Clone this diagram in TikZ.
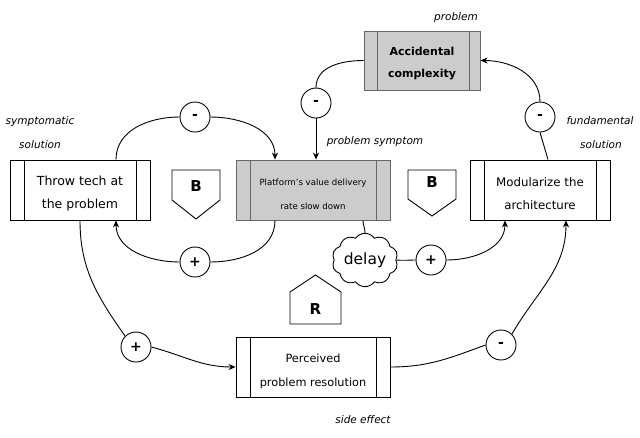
\documentclass[tikz,border=0pt]{standalone}
\usepackage{fontspec}
\setmainfont{DejaVu Sans}
\usetikzlibrary{shapes.symbols,arrows.meta}
\definecolor{boxgray}{HTML}{CCCCCC}
\definecolor{edgegray}{HTML}{666666}
\tikzset{
  proc/.style={draw, rectangle, line width=0.9pt, minimum width=140pt, minimum height=60pt,
    inner sep=0pt,
    path picture={
      \draw[line width=0.9pt] ([xshift=14pt]path picture bounding box.north west) -- ([xshift=14pt]path picture bounding box.south west);
      \draw[line width=0.9pt] ([xshift=-14pt]path picture bounding box.north east) -- ([xshift=-14pt]path picture bounding box.south east);
    }},
  grayproc/.style={proc, fill=boxgray, draw=edgegray},
  boxtext/.style={align=center, inner sep=0pt},
  sign/.style={draw, circle, line width=0.9pt, minimum size=30pt, inner sep=0pt, font=\bfseries\fontsize{14}{14}\selectfont},
  note/.style={font=\itshape\fontsize{10.5}{12}\selectfont},
  link/.style={line width=0.9pt},
  arr/.style={link, -{Stealth[length=7pt,width=6pt]}},
  marker/.style={line width=0.9pt},
  mark letter/.style={font=\bfseries\fontsize{15}{15}\selectfont},
}
\begin{document}
\begin{tikzpicture}[x=1pt,y=-1pt]
\useasboundingbox (0,0) rectangle (640,437);
% boxes
\node[proc] (tt) at (80,190) {};
\node[boxtext, font=\fontsize{12.5}{23}\selectfont] (ttt) at ([yshift=-4pt]tt.center) {Throw tech at\\the problem};
\node[grayproc, minimum width=154pt] (pf) at (313,190) {};
\node[boxtext, font=\fontsize{8.6}{24}\selectfont] (pft) at ([yshift=-4pt]pf.center) {Platform's value delivery\\rate slow down};
\node[grayproc, minimum width=116pt, minimum height=59pt,
  path picture={
      \draw[line width=0.9pt,edgegray] ([xshift=13pt]path picture bounding box.north west) -- ([xshift=13pt]path picture bounding box.south west);
      \draw[line width=0.9pt,edgegray] ([xshift=-11pt]path picture bounding box.north east) -- ([xshift=-11pt]path picture bounding box.south east);
    }] (ac) at (422,60.5) {};
\node[boxtext, font=\bfseries\fontsize{11}{22}\selectfont] (act) at ([yshift=-3pt]ac.center) {Accidental\\complexity};
\node[proc] (mo) at (540,190) {};
\node[boxtext, font=\fontsize{11.8}{23}\selectfont] (mot) at ([yshift=-4pt]mo.center) {Modularize the\\architecture};
\node[proc, minimum width=154pt] (pr) at (313,367) {};
\node[boxtext, font=\fontsize{11.3}{24}\selectfont] (prt) at ([yshift=-4pt]pr.center) {Perceived\\problem resolution};
% signs
\node[sign] (m1) at (195,117) {-};
\node[sign] (m2) at (316,103) {-};
\node[sign] (m3) at (540,117) {-};
\node[sign] (p1) at (195,262) {+};
\node[sign] (p2) at (431,260) {+};
\node[sign] (p3) at (136,347) {+};
\node[sign] (m4) at (501,345) {-};
\node[draw, cloud, cloud puffs=10, cloud puff arc=110, aspect=1.3, line width=0.9pt,
  minimum width=66pt, minimum height=52pt, inner sep=0pt, font=\fontsize{15.5}{15.5}\selectfont] (dl) at (365,260) {delay};
% markers
\draw[marker] (172,170) -- (220,170) -- (220,200) -- (196,219) -- (172,200) -- cycle;
\node[mark letter] (b1) at (196,186) {B};
\draw[marker] (408,170) -- (456,170) -- (456,199) -- (432,216) -- (408,199) -- cycle;
\node[mark letter] (b2) at (432,182) {B};
\draw[marker] (290,324) -- (341,324) -- (341,292) -- (315.5,275) -- (290,292) -- cycle;
\node[mark letter] (r1) at (315.5,309) {R};
% notes
\node[note] (n1) at (456,18) {problem};
\node[note] (n2) at (40,122) {symptomatic};
\node[note] (n3) at (40,145) {solution};
\node[note] (n4) at (375,142) {problem symptom};
\node[note] (n5) at (600,121) {fundamental};
\node[note] (n6) at (601,145) {solution};
\node[note] (n7) at (363,420) {side effect};
% connectors
\draw[link] ([xshift=36pt]tt.north) to[out=90,in=180] (m1.west);
\draw[arr] (m1.east) to[out=0,in=90] ([xshift=-38pt]pf.north);
\draw[link] ([xshift=-38pt]pf.south) to[out=-90,in=0] (p1.east);
\draw[arr] (p1.west) to[out=180,in=-90] ([xshift=36pt]tt.south);
\draw[link] (ac.west) to[out=180,in=90] (m2.north);
\draw[arr] (m2.south) -- (m2.south |- pf.north);
\draw[link] ([xshift=8pt]mo.north) -- (m3.south);
\draw[arr] (m3.north) to[out=90,in=0] (ac.east);
\draw[link] ([xshift=50pt]pf.south) to[out=-90,in=90] (dl.north);
\draw[link] (dl.east) to[out=-5,in=180] (p2.west);
\draw[arr] (p2.east) to[out=0,in=-90] ([xshift=-35pt]mo.south);
\draw[link] (tt.south) to[out=-90,in=125] (p3.north west);
\draw[arr] (p3.east) to[out=-15,in=180] (pr.west);
\draw[link] (pr.east) to[out=0,in=200] (m4.west);
\draw[arr] (m4.north east) to[out=60,in=-90] ([xshift=26pt]mo.south);
\end{tikzpicture}
\end{document}
